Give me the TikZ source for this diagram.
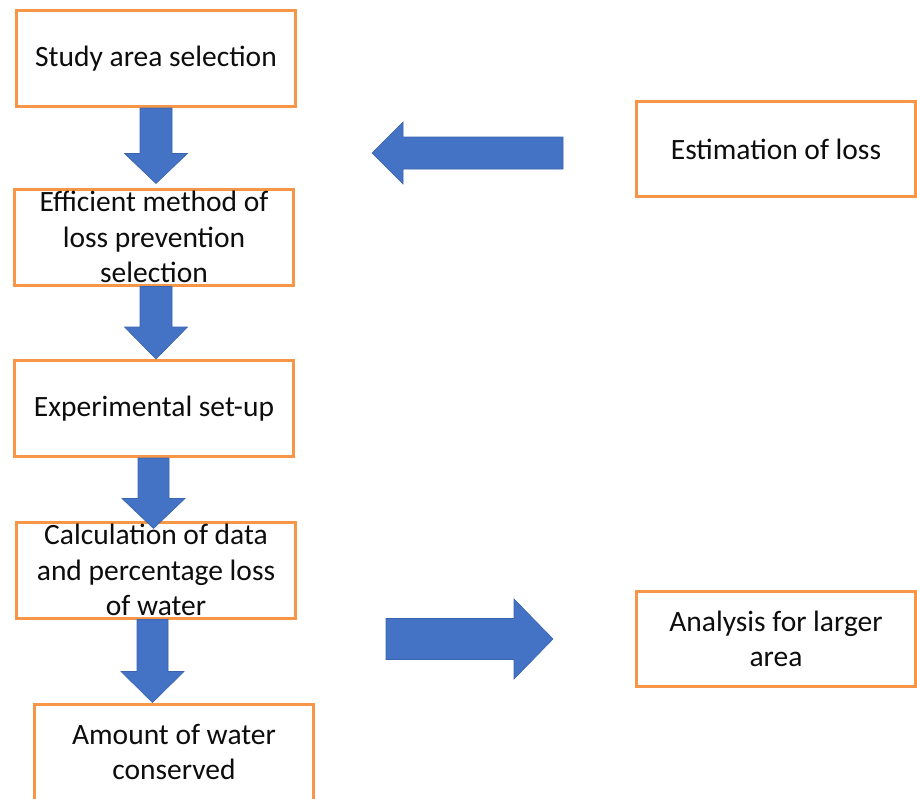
\documentclass[tikz,border=0pt]{standalone}
\usepackage{fontspec}
\setmainfont{Carlito}
\usetikzlibrary{calc}
\definecolor{boxorange}{HTML}{F79646}
\definecolor{arrowblue}{HTML}{4472C4}
\definecolor{arrowedge}{HTML}{3A64B0}
\definecolor{textdark}{HTML}{0D0D0D}
% vertical block arrow: #1 start (shaft end), #2 tip, #3 shaft half width, #4 head half width, #5 signed head length
\newcommand\blockv[5]{\path[blockarrow] let \p1=(#1), \p2=(#2) in
  (\x1-#3pt,\y1) -- (\x1+#3pt,\y1) -- (\x1+#3pt,\y2+#5pt) -- (\x1+#4pt,\y2+#5pt)
  -- (\x1,\y2) -- (\x1-#4pt,\y2+#5pt) -- (\x1-#3pt,\y2+#5pt) -- cycle;}
% horizontal block arrow
\newcommand\blockh[5]{\path[blockarrow] let \p1=(#1), \p2=(#2) in
  (\x1,\y2+#3pt) -- (\x1,\y2-#3pt) -- (\x2+#5pt,\y2-#3pt) -- (\x2+#5pt,\y2-#4pt)
  -- (\x2,\y2) -- (\x2+#5pt,\y2+#4pt) -- (\x2+#5pt,\y2+#3pt) -- cycle;}
\begin{document}
\begin{tikzpicture}[x=1pt,y=-1pt,
  stepbox/.style={draw=boxorange, line width=3pt, fill=white, text=textdark,
    minimum width=279pt, minimum height=96pt, inner sep=0pt, align=center,
    font=\fontsize{29.5}{35.5}\selectfont},
  blockarrow/.style={fill=arrowblue, draw=arrowedge, line width=0.6pt, line join=miter}]
\useasboundingbox (0,0) rectangle (917,798);

\node[stepbox] (b1) at (156,58.5) {Study area selection};
\node[stepbox] (b2) at (154,237) {Efficient method of\\loss prevention\\selection};
\node[stepbox] (b3) at (154,408.5) {Experimental set-up};
\node[stepbox] (b4) at (156,570) {Calculation of data\\and percentage loss\\of water};
\node[stepbox] (b5) at (174,752) {Amount of water\\conserved};
\node[stepbox, minimum height=95pt] (b6) at (776,149) {Estimation of loss};
\node[stepbox, minimum height=95pt] (b7) at (776,639) {Analysis for larger\\area};

\coordinate (t1) at ($(b2.north)+(0,-4)$);
\coordinate (t2) at (b3.north);
\coordinate (t3) at ($(b4.north)+(0,8)$);
\coordinate (t4) at (b5.north);
\coordinate (s2) at ($(b2.south)+(2,0)$);
\coordinate (s3) at ($(b3.south)+(-0.5,0)$);
\coordinate (s4) at ($(b4.south)+(-3.5,0)$);

\blockv{b1.south}{t1}{16}{31.5}{30}
\blockv{s2}{t2}{16}{31.5}{32}
\blockv{s3}{t3}{15.5}{31.5}{30}
\blockv{s4}{t4}{15.5}{31.5}{31}

\coordinate (ls) at ($(b6.west)+(-72,0)$);
\coordinate (lt) at ($(b6.west)+(-263,4)$);
\blockh{ls}{lt}{16}{31}{31}

\coordinate (rs) at ($(b4.east)+(89,0)$);
\coordinate (rt) at ($(b7.west)+(-82,0)$);
\blockh{rs}{rt}{20.5}{40}{-39}
\end{tikzpicture}
\end{document}
